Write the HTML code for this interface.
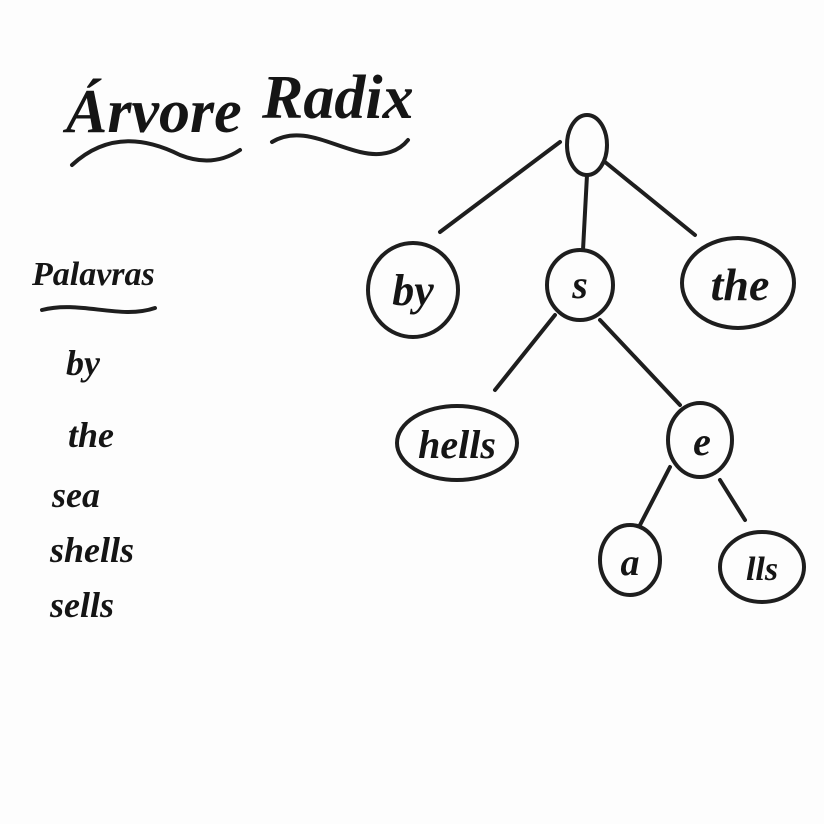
<!DOCTYPE html>
<html><head><meta charset="utf-8"><style>
html,body{margin:0;padding:0;background:#fdfdfd;}
svg{display:block;}
text{font-family:"Liberation Serif",serif;font-style:italic;font-weight:bold;fill:#151515;}
</style></head><body>
<svg width="824" height="824" viewBox="0 0 824 824" xmlns="http://www.w3.org/2000/svg">
<rect width="824" height="824" fill="#fdfdfd"/>
<g fill="none" stroke="#1e1e1e" stroke-width="4" stroke-linecap="round">
  <path d="M72 165 C110 130 150 140 180 155 C205 165 225 160 240 150"/>
  <path d="M272 142 C300 125 330 145 360 152 C385 158 400 150 408 140"/>
  <path d="M42 310 C80 300 120 320 155 308"/>
  <ellipse cx="587" cy="145" rx="20" ry="30"/>
  <ellipse cx="413" cy="290" rx="45" ry="47"/>
  <ellipse cx="580" cy="285" rx="33" ry="35"/>
  <ellipse cx="738" cy="283" rx="56" ry="45"/>
  <ellipse cx="457" cy="443" rx="60" ry="37"/>
  <ellipse cx="700" cy="440" rx="32" ry="37"/>
  <ellipse cx="630" cy="560" rx="30" ry="35"/>
  <ellipse cx="762" cy="567" rx="42" ry="35"/>
  <line x1="560" y1="142" x2="440" y2="232"/>
  <line x1="587" y1="175" x2="583" y2="250"/>
  <line x1="605" y1="162" x2="695" y2="235"/>
  <line x1="555" y1="315" x2="495" y2="390"/>
  <line x1="600" y1="320" x2="680" y2="405"/>
  <line x1="670" y1="467" x2="640" y2="525"/>
  <line x1="720" y1="480" x2="745" y2="520"/>
</g>
<text x="66" y="132" font-size="62">Árvore</text>
<text x="262" y="118" font-size="62">Radix</text>
<text x="32" y="285" font-size="34">Palavras</text>
<text x="66" y="375" font-size="36">by</text>
<text x="68" y="447" font-size="36">the</text>
<text x="52" y="507" font-size="36">sea</text>
<text x="50" y="562" font-size="36">shells</text>
<text x="50" y="617" font-size="36">sells</text>
<text x="413" y="305" font-size="44" text-anchor="middle">by</text>
<text x="580" y="298" font-size="40" text-anchor="middle">s</text>
<text x="740" y="300" font-size="46" text-anchor="middle">the</text>
<text x="457" y="458" font-size="40" text-anchor="middle">hells</text>
<text x="702" y="455" font-size="40" text-anchor="middle">e</text>
<text x="630" y="575" font-size="38" text-anchor="middle">a</text>
<text x="762" y="580" font-size="34" text-anchor="middle">lls</text>
</svg>
</body></html>
